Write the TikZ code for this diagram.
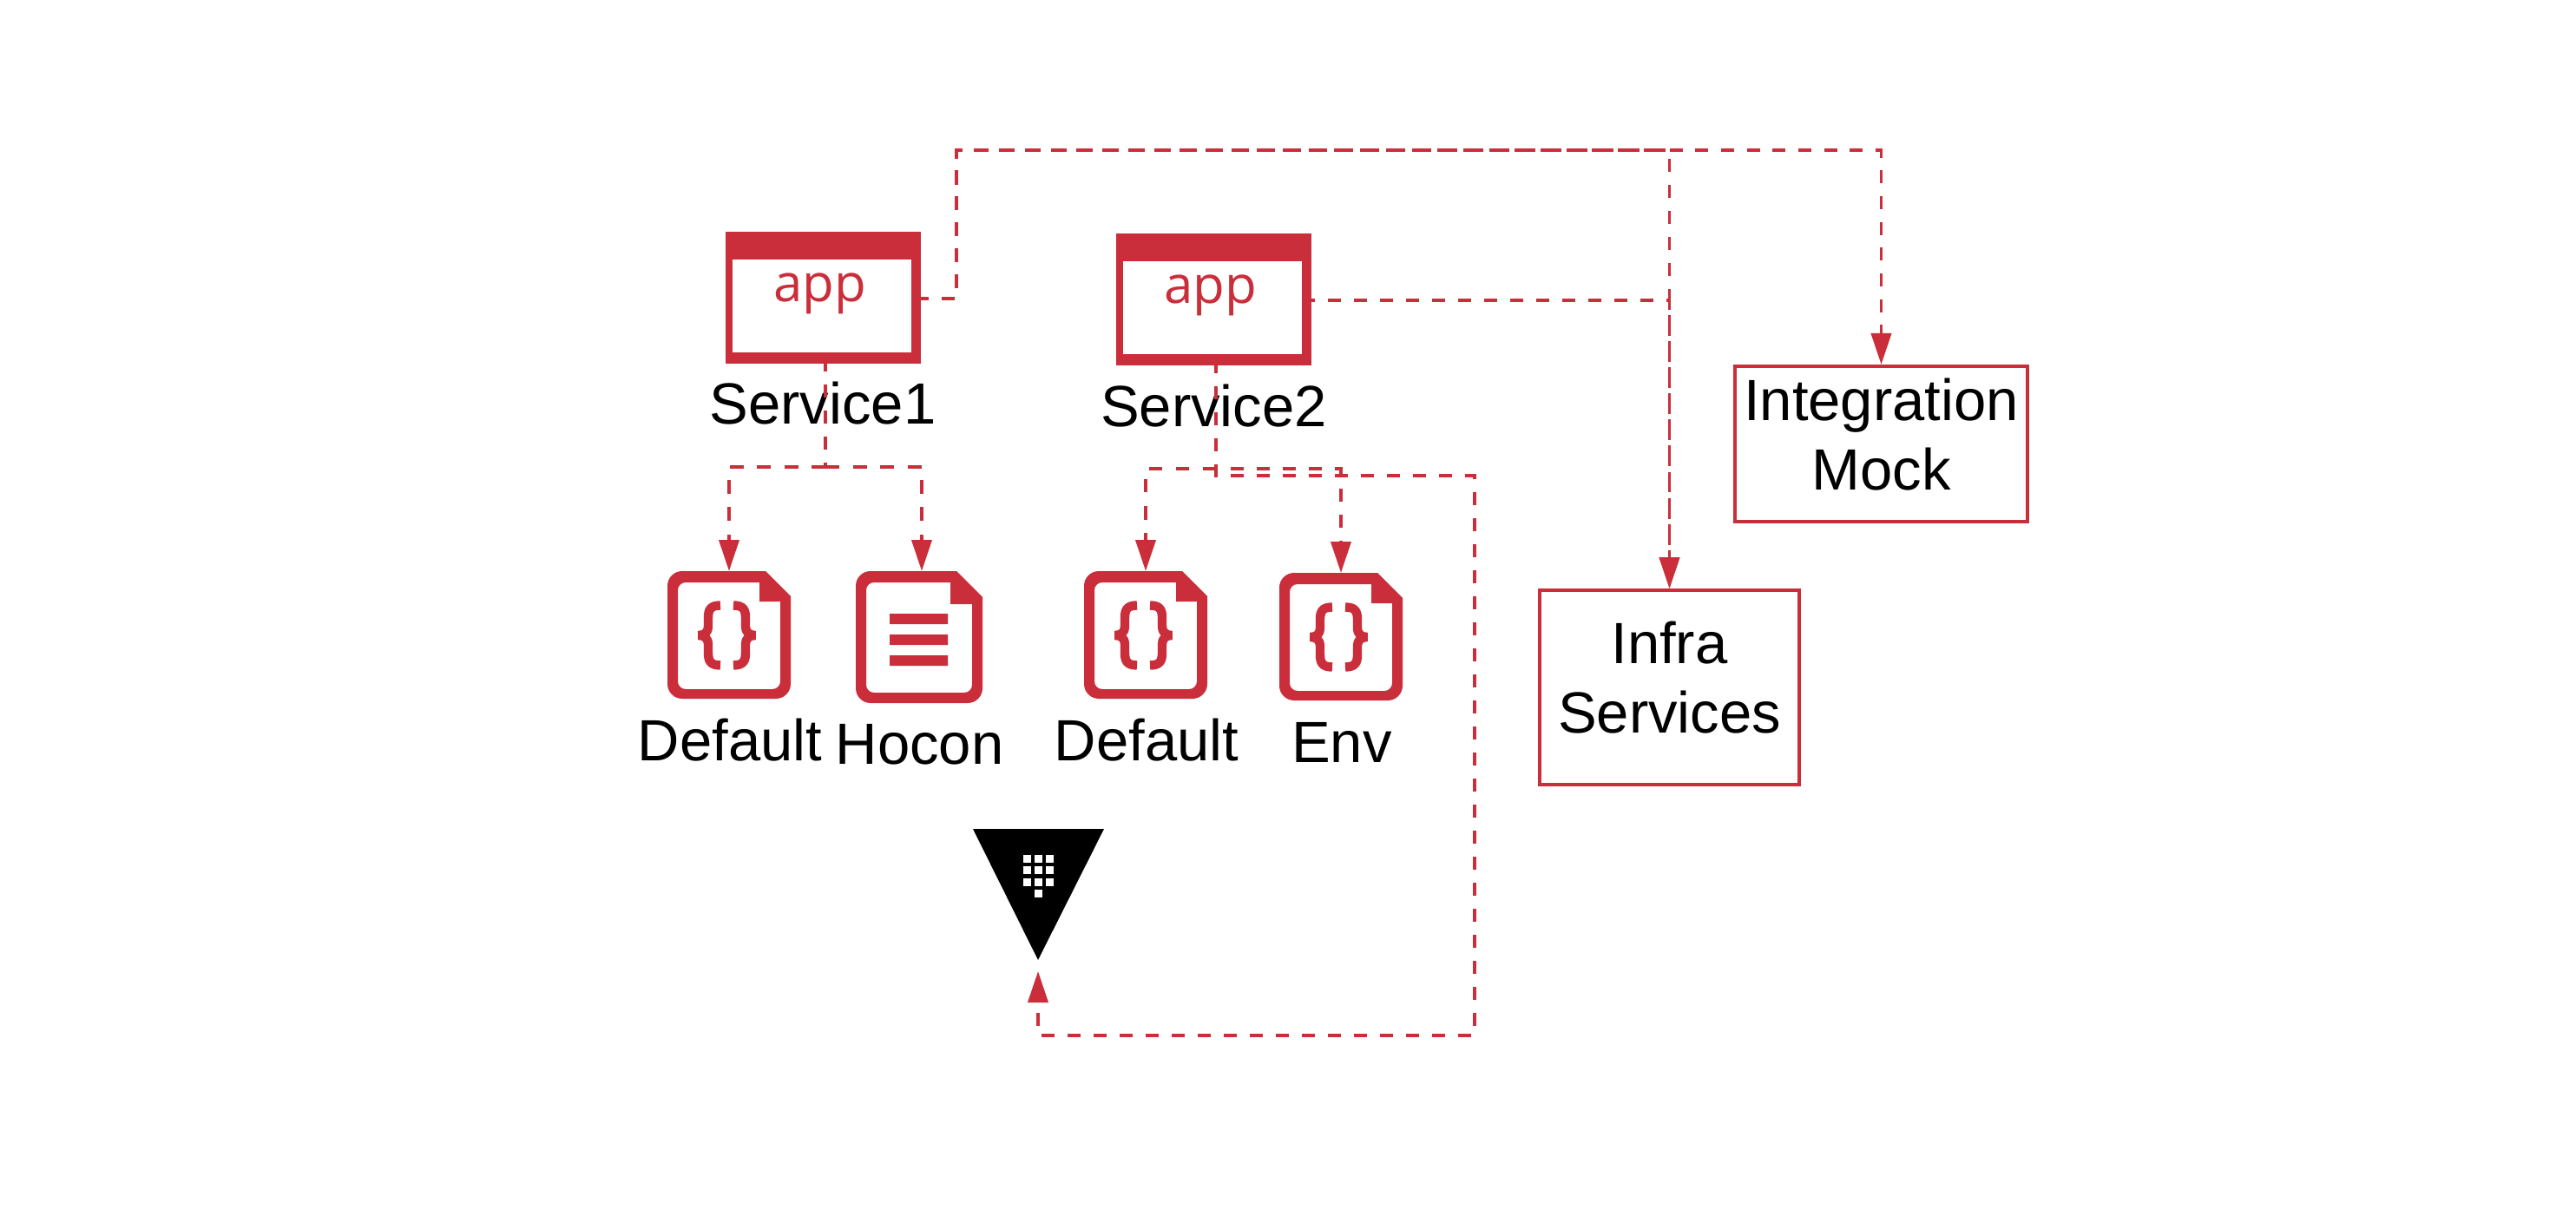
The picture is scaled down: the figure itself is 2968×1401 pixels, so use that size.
\documentclass[tikz,border=0pt]{standalone}
\usepackage{fontspec}
\setmainfont{Liberation Sans}
\newfontfamily\appfont{Open Sans}
\usetikzlibrary{arrows.meta}
\definecolor{brand}{HTML}{CA2E3B}
\newcommand\lowstrut{\rule[-11.5pt]{0pt}{11.5pt}}
\newcommand\bracesglyph{%
  \draw[brand,line width=5.2pt,line cap=butt,line join=bevel]
    (61,39.5) .. controls (49,39.5) and (47,45) .. (47,54) -- (47,64) .. controls (47,70) and (43,74) .. (36,74)
    .. controls (43,74) and (47,78) .. (47,84) -- (47,94) .. controls (47,103) and (49,108.5) .. (61,108.5);
  \draw[brand,line width=5.2pt,line cap=butt,line join=bevel]
    (76,39.5) .. controls (88,39.5) and (90,45) .. (90,54) -- (90,64) .. controls (90,70) and (94,74) .. (101,74)
    .. controls (94,74) and (90,78) .. (90,84) -- (90,94) .. controls (90,103) and (88,108.5) .. (76,108.5);
}
% #1 node name, #2 x, #3 y of the top left corner
\newcommand\jsonicon[3]{%
  \begin{scope}[shift={(#2,#3)}]
    \node[iconbox,minimum width=71pt,minimum height=73.5pt] (#1) at (71,73.5) {};
    \fill[brand,even odd rule]
      (113,0) -- (142,29) -- (142,60) [rounded corners=8.5pt] -- (142,147) -- (0,147) -- (0,0) [sharp corners] -- cycle
      (106,13) -- (106,35) -- (130,35) -- (130,60) [rounded corners=4.5pt] -- (130,136) -- (12,136) -- (12,13) [sharp corners] -- cycle;
    \bracesglyph
  \end{scope}}
\tikzset{
  x=.5pt,y=-.5pt,
  iconbox/.style={inner sep=0pt,outer sep=0pt},
  lbl/.style={inner sep=0pt,anchor=base,font=\fontsize{33.5pt}{40pt}\selectfont,text=black},
  boxnode/.style={draw=brand,line width=2pt,fill=white,inner sep=0pt,align=center,text=black,
    font=\fontsize{33.5pt}{40pt}\selectfont},
  winframe/.style={fill=brand,inner sep=0pt,outer sep=0pt,minimum width=112.5pt,minimum height=76pt},
  apptext/.style={inner sep=0pt,anchor=base,text=brand,font=\appfont\fontsize{30pt}{36pt}\selectfont},
  wire/.style={draw=brand,line width=1.9pt,dash pattern=on 7.5pt off 7.5pt},
  wireA/.style={draw=brand,line width=1.9pt,dash pattern=on 8pt off 7.75pt},
  wireB/.style={draw=brand,line width=1.9pt,dash pattern=on 7.75pt off 7.75pt},
  wireC/.style={draw=brand,line width=1.9pt,dash pattern=on 7.5pt off 7.35pt},
  tip/.style={-{Triangle[length=18pt,width=11.5pt]}},
}
\begin{document}
\begin{tikzpicture}
\useasboundingbox (0,0) rectangle (2968,1401);
\fill[white] (0,0) rectangle (2968,1401);

% target boxes
\node[boxnode,minimum width=168.5pt,minimum height=89.5pt] (integ) at (2167.5,511.5) {Integration\\Mock\lowstrut};
\node[boxnode,minimum width=149.5pt,minimum height=112pt] (infra) at (1923.5,792) {Infra\\Services\lowstrut};

% file icons
\jsonicon{defa}{769}{658}
\jsonicon{defb}{1249}{658}
\jsonicon{envf}{1474}{660}
\begin{scope}[shift={(986,658)}]
  \node[iconbox,minimum width=73pt,minimum height=76pt] (hoc) at (73,76) {};
  \fill[brand,even odd rule]
    (116,0) -- (146,30) -- (146,60) [rounded corners=8.5pt] -- (146,152) -- (0,152) -- (0,0) [sharp corners] -- cycle
    (109,13) -- (109,38) -- (134,38) -- (134,60) [rounded corners=4.5pt] -- (134,140) -- (12,140) -- (12,13) [sharp corners] -- cycle;
  \fill[brand] (39,49) rectangle (106,61) (39,73) rectangle (106,85) (39,97) rectangle (106,109);
\end{scope}

% vault
\node[iconbox,minimum width=75.5pt,minimum height=75.5pt] (vault) at (1196.5,1030.5) {};
\fill[black] (1121,955) -- (1272,955) -- (1196,1106) -- cycle;
\foreach \cx in {1179,1192,1205}
  \foreach \cy in {985,998,1012}
    \fill[white] (\cx,\cy) rectangle ++(9,9);
\fill[white] (1192,1025) rectangle ++(9,9);
\coordinate (vaultin) at (1196,1119);

% labels
\node[lbl] (svconelbl) at (948,489) {Service1};
\node[lbl] (svctwolbl) at (1398.5,492) {Service2};
\node[lbl] (defalbl) at (841,876) {Default};
\node[lbl] (hoclbl) at (1059.5,880) {Hocon};
\node[lbl] (defblbl) at (1321,876) {Default};
\node[lbl] (envlbl) at (1546,878) {Env};

% ports
\coordinate (sonetop) at (1055,344);
\coordinate (sonedown) at (951,413);
\coordinate (sonejoin) at (951,538);
\coordinate (stworight) at (1500,346);
\coordinate (stwodown) at (1401,415);
\coordinate (stwojoin) at (1401,540);
\coordinate (stwojoinb) at (1388,540);

% connectors
\draw[wire,tip] (sonetop) -- (1102,344) -- (1102,173) -| (infra.north);
\draw[wireC,tip] (sonetop) -- (1102,344) -- (1102,173) -| (integ.north);
\draw[wire,tip] (stworight) -| (infra.north);
\draw[wire] (sonedown) -- (sonejoin);
\draw[wireA,tip] (sonejoin) -| (defa.north);
\draw[wireA,tip] (sonejoin) -| ([xshift=1.5pt]hoc.north);
\draw[wire] (stwodown) -- (stwojoin);
\draw[wireB,tip] (stwojoin) -| (defb.north);
\draw[wire,tip] (stwojoinb) -| (envf.north);
\draw[wire,tip] (stwodown) -- (1401,548) -- (1699,548) -- (1699,1193) -| (vaultin);

% application windows
\begin{scope}
  \node[winframe] (svcone) at (948.5,343) {};
  \fill[white] (844,299) rectangle (1050,406);
  \node[apptext] (appone) at (944.5,348) {app};
\end{scope}
\begin{scope}[shift={(450,2)}]
  \node[winframe] (svctwo) at (948.5,343) {};
  \fill[white] (844,299) rectangle (1050,406);
  \node[apptext] (apptwo) at (944.5,348) {app};
\end{scope}
\end{tikzpicture}
\end{document}
